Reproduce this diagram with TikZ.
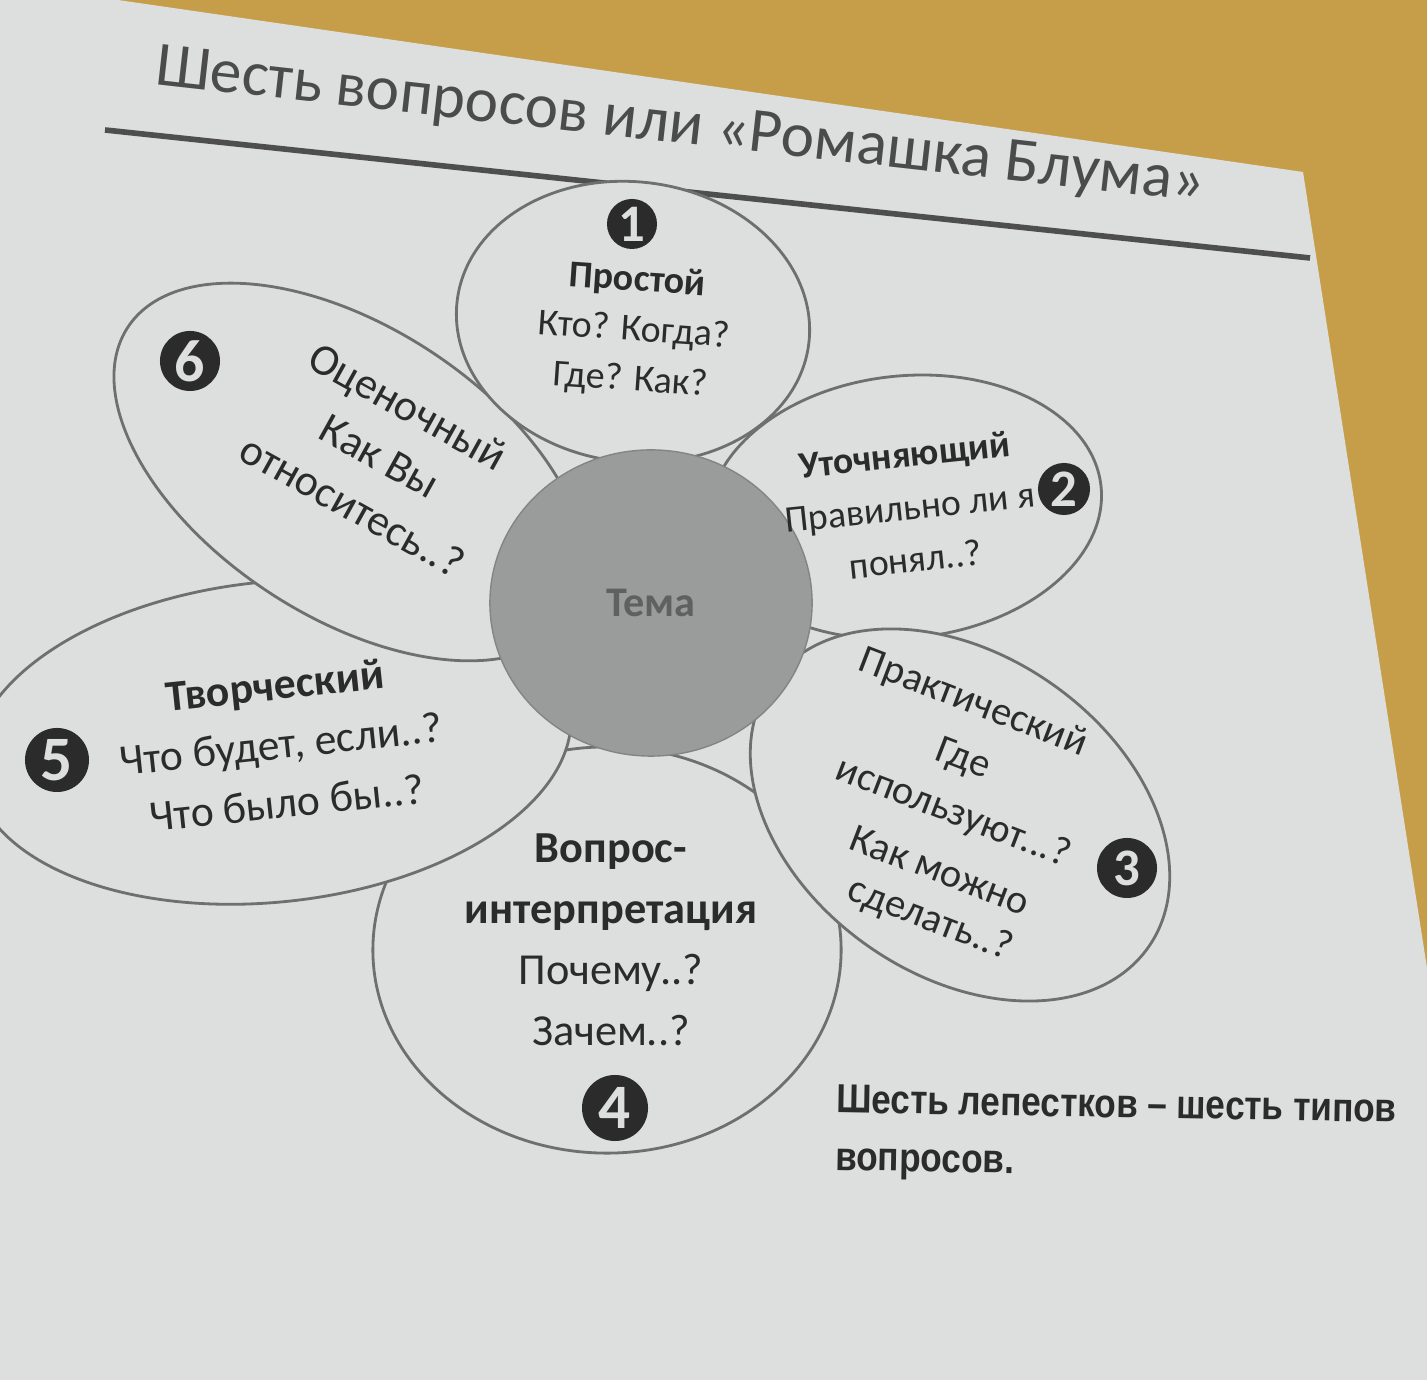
\documentclass[tikz,border=0pt]{standalone}
\usepackage{fontspec}
\setmainfont{Carlito}
\newfontfamily\notefont{Liberation Sans}
\usetikzlibrary{shapes.geometric}

\definecolor{wood}{HTML}{C69E4A}
\definecolor{paper}{HTML}{DCDFDD}
\definecolor{ink}{HTML}{2B2B2B}
\definecolor{petalline}{HTML}{6E7070}
\definecolor{core}{HTML}{9A9C9B}
\definecolor{rule}{HTML}{4E4E4E}

\newcommand\petalfont[2]{\fontsize{#1}{#2}\selectfont}

\tikzset{
  petal/.style={ellipse, draw=petalline, fill=paper, line width=0.8pt, inner sep=0pt},
  numdot/.style={circle, fill=ink, text=paper, inner sep=0pt, minimum size=#1,
    font=\bfseries\petalfont{15}{15}},
  numdot/.default=0.56cm,
  lbl/.style={align=center, text=ink, inner sep=0pt},
}

\begin{document}
\begin{tikzpicture}[x=0.01cm, y=-0.01cm]
        \useasboundingbox (0,0) rectangle (1427,1380);
        % table and sheet
        \fill[wood] (0,0) rectangle (1427,1380);
        \fill[paper] (0,0) -- (118,0) -- (1303,172) -- (1427,968) -- (1427,1380) -- (0,1380) -- cycle;

        % title
        \node[text=ink!85, rotate=-6.4, font=\petalfont{18}{21}] (titel) at (680,128) {Шесть вопросов или «Ромашка Блума»};
        \coordinate (ruleL) at (105,130);
        \coordinate (ruleR) at (1310,258);
        \draw[rule, line width=1.6pt] (ruleL) -- (ruleR);

        % petals
        \node[petal, minimum width=4.68cm, minimum height=4.06cm] (interp) at (607,950) {};
        \node[petal, minimum width=6.0cm, minimum height=3.2cm, rotate=6] (tvorch) at (272,742) {};
        \node[petal, minimum width=5.3cm, minimum height=2.9cm, rotate=-33] (ocen) at (350,472) {};
        \node[petal, minimum width=3.54cm, minimum height=2.8cm, rotate=-7] (prost) at (633,322) {};
        \node[petal, minimum width=3.94cm, minimum height=2.62cm, rotate=6] (utoch) at (905,507) {};
        \node[petal, minimum width=4.6cm, minimum height=3.2cm, rotate=-35] (prakt) at (960,815) {};

        % centre
        \node[ellipse, fill=core, draw=core!85!black, minimum width=3.22cm, minimum height=3.06cm, inner sep=0pt,
          text=ink!75, font=\bfseries\petalfont{12}{12}] (tema) at (651,603) {Тема};

        % 1
        \node[numdot=0.5cm] (n1) at (632,224) {1};
        \node[lbl, rotate=-4, font=\petalfont{10.8}{14.2}] (prostlbl) at (634,331) {\textbf{Простой}\\Кто? Когда?\\Где? Как?};
        % 2
        \node[numdot=0.52cm] (n2) at (1064,489) {2};
        \node[lbl, rotate=6, font=\petalfont{10.7}{15}] (utochlbl) at (910,507) {\textbf{Уточняющий}\\Правильно ли я\\понял..?};
        % 3
        \node[numdot=0.6cm] (n3) at (1127,868) {3};
        \node[lbl, rotate=-21, font=\petalfont{11.5}{14}] (prakt1) at (973,703) {Практический};
        \node[lbl, rotate=-21, font=\petalfont{11.5}{14}] (prakt2) at (963,760) {Где};
        \node[lbl, rotate=-21, font=\petalfont{11.5}{14}] (prakt3) at (953,813) {используют...?};
        \node[lbl, rotate=-21, font=\petalfont{11.5}{14}] (prakt4) at (940,870) {Как можно};
        \node[lbl, rotate=-21, font=\petalfont{11.5}{14}] (prakt5) at (930,920) {сделать..?};
        % 4
        \node[numdot=0.66cm, font=\bfseries\petalfont{18}{18}] (n4) at (615,1108) {4};
        \node[lbl, font=\petalfont{12.6}{17.4}] (interplbl) at (611,940) {\textbf{Вопрос-}\\\textbf{интерпретация}\\Почему..?\\Зачем..?};
        % 5
        \node[numdot=0.64cm, font=\bfseries\petalfont{18}{18}] (n5) at (57,760) {5};
        \node[lbl, rotate=6, font=\petalfont{12.4}{16.8}] (tvorchlbl) at (281,744) {\textbf{Творческий}\\Что будет, если..?\\Что было бы..?};
        % 6
        \node[numdot=0.6cm, font=\bfseries\petalfont{17}{17}] (n6) at (190,361) {6};
        \node[lbl, rotate=-29, font=\petalfont{12.5}{16.2}] (ocenlbl) at (380,456) {Оценочный\\Как Вы\\относитесь..?};

        % note
        \node[lbl, align=left, anchor=north west, rotate=-1, xscale=0.87, font=\notefont\bfseries\petalfont{11.5}{16.4}] (note) at (836,1084) {Шесть лепестков – шесть типов\\вопросов.};
\end{tikzpicture}
\end{document}
